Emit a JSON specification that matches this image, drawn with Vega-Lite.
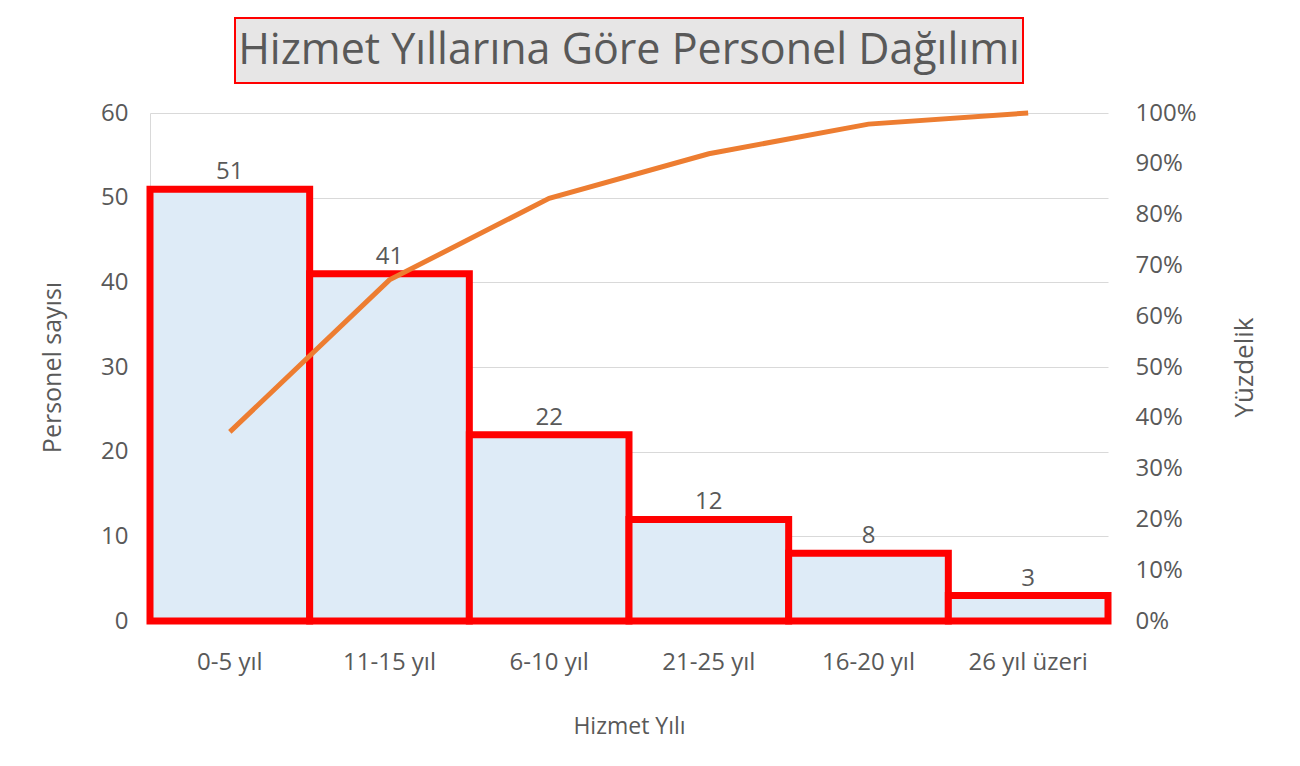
{
  "$schema": "https://vega.github.io/schema/vega-lite/v6.json",
  "padding": {"left": 40, "top": 17, "right": 5, "bottom": 5},
  "background": "white",
  "config": {
    "font": "Open Sans",
    "view": {"stroke": null},
    "axis": {"labelColor": "#595959", "titleColor": "#595959", "titleFontWeight": "normal", "labelFontSize": 24, "titleFontSize": 23, "ticks": false, "tickSize": 0}
  },
  "center": true,
  "bounds": "flush",
  "spacing": 30,
  "vconcat": [
    {
      "width": 788,
      "height": 65,
      "view": {"fill": "#E7E6E6", "stroke": "#FF0000", "strokeWidth": 2},
      "data": {"values": [{"baslik": "Hizmet Yıllarına Göre Personel Dağılımı", "px": 0.5, "py": 0.5}]},
      "mark": {"type": "text", "fontSize": 43, "color": "#595959", "align": "center", "baseline": "middle"},
      "encoding": {
        "text": {"field": "baslik", "type": "nominal"},
        "x": {"field": "px", "type": "quantitative", "scale": {"domain": [0, 1]}, "axis": null},
        "y": {"field": "py", "type": "quantitative", "scale": {"domain": [0, 1]}, "axis": null}
      }
    },
    {
      "width": 958,
      "height": 508,
      "data": {
        "values": [
          {"kategori": "0-5 yıl", "sayi": 51, "yuzde": 0.3723},
          {"kategori": "11-15 yıl", "sayi": 41, "yuzde": 0.6715},
          {"kategori": "6-10 yıl", "sayi": 22, "yuzde": 0.8321},
          {"kategori": "21-25 yıl", "sayi": 12, "yuzde": 0.9197},
          {"kategori": "16-20 yıl", "sayi": 8, "yuzde": 0.9781},
          {"kategori": "26  yıl üzeri", "sayi": 3, "yuzde": 1.0}
        ]
      },
      "encoding": {
        "x": {
          "field": "kategori", "type": "nominal", "sort": null,
          "scale": {"paddingInner": 0, "paddingOuter": 0},
          "axis": {"title": "Hizmet Yılı", "labelAngle": 0, "labelPadding": 29, "titlePadding": 41, "domain": true, "domainColor": "#FF0000", "domainWidth": 3}
        }
      },
      "layer": [
        {
          "encoding": {
            "y": {
              "field": "sayi", "type": "quantitative",
              "scale": {"domain": [0, 60]},
              "axis": {"title": "Personel sayısı", "titleFontSize": 25, "values": [0, 10, 20, 30, 40, 50, 60], "grid": true, "gridColor": "#D9D9D9", "domain": true, "domainColor": "#D9D9D9", "labelPadding": 22, "titlePadding": 35}
            }
          },
          "layer": [
            {"mark": {"type": "bar", "fill": "#DEEBF7", "stroke": "#FF0000", "strokeWidth": 7}},
            {"mark": {"type": "text", "fontSize": 24, "color": "#595959", "baseline": "alphabetic", "dy": -10}, "encoding": {"text": {"field": "sayi", "type": "quantitative"}}}
          ]
        },
        {
          "mark": {"type": "line", "color": "#ED7D31", "strokeWidth": 5},
          "encoding": {
            "y": {
              "field": "yuzde", "type": "quantitative",
              "scale": {"domain": [0, 1]},
              "axis": {"orient": "right", "title": "Yüzdelik", "titleAngle": 270, "titleFontSize": 26, "format": ".0%", "values": [0, 0.1, 0.2, 0.3, 0.4, 0.5, 0.6, 0.7, 0.8, 0.9, 1], "grid": false, "domain": false, "labelPadding": 27, "titlePadding": 61}
            }
          }
        }
      ],
      "resolve": {"scale": {"y": "independent"}}
    }
  ]
}
